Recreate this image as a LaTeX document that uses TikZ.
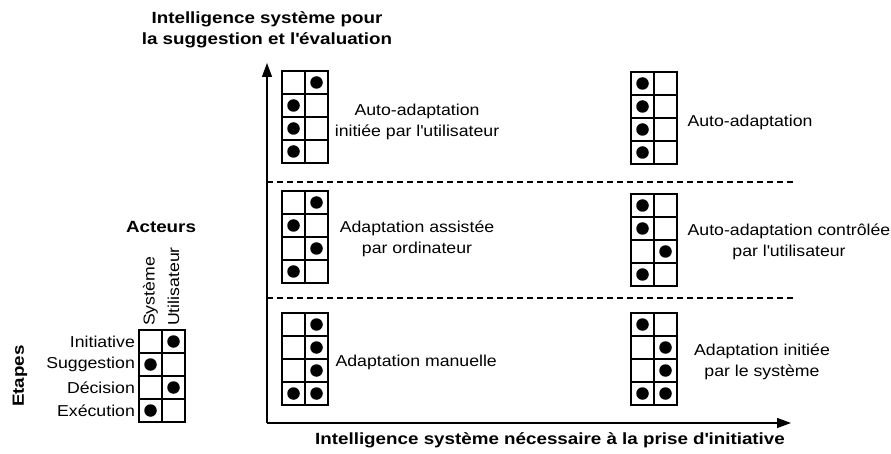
\documentclass[tikz,border=0pt]{standalone}
\usepackage{fontspec}
\setmainfont{Liberation Sans}[FakeStretch=1.12, BoldFeatures={FakeStretch=1.16}]
\usetikzlibrary{arrows.meta}

\tikzset{
  cell/.style={draw, line width=1.2pt, minimum size=23pt, inner sep=0pt},
  dot/.style={circle, fill=black, inner sep=0pt, minimum size=12.5pt},
  axis/.style={line width=1.3pt, -{Triangle[length=14pt,width=10pt]}},
  sep/.style={line width=1.1pt, dash pattern=on 6pt off 4pt},
  lab/.style={align=center, font=\fontsize{15.8}{21.5}\selectfont},
  titre/.style={align=center, font=\fontsize{16.2}{21}\selectfont\bfseries}
}

\begin{document}
\begin{tikzpicture}[x=1pt, y=-1pt]
            \useasboundingbox (0,0) rectangle (891,454);

            % axes
            \coordinate (origin) at (267,423);
            \coordinate (ytip) at (267,63);
            \coordinate (xtip) at (791,423);
            \draw[axis] (origin) -- (ytip);
            \draw[axis] (origin) -- (xtip);
            \coordinate (sep1a) at (267,182);
            \coordinate (sep1b) at (795,182);
            \coordinate (sep2a) at (267,298);
            \coordinate (sep2b) at (795,298);
            \draw[sep] (sep1a) -- (sep1b);
            \draw[sep] (sep2a) -- (sep2b);

            \node[titre] (ytitle) at (267,30) {Intelligence système pour\\la suggestion et l\textquotesingle évaluation};
            \node[titre] (xtitle) at (550,440) {Intelligence système nécessaire à la prise d\textquotesingle initiative};

            % grilles 2x4
            \foreach \g/\x/\y in {leg/139/330, tl/282/71, tr/631/72, ml/282/191, mr/631/194, bl/282/313, br/631/313}
              \foreach \r in {1,...,4}
                \foreach \c in {1,2}
                  \node[cell] (\g-\r-\c) at ({\x+23*\c-11.5},{\y+23*\r-11.5}) {};

            \foreach \p in {leg-1-2, leg-2-1, leg-3-2, leg-4-1,
                            tl-1-2, tl-2-1, tl-3-1, tl-4-1,
                            tr-1-1, tr-2-1, tr-3-1, tr-4-1,
                            ml-1-2, ml-2-1, ml-3-2, ml-4-1,
                            mr-1-1, mr-2-1, mr-3-2, mr-4-1,
                            bl-1-2, bl-2-2, bl-3-2, bl-4-1, bl-4-2,
                            br-1-1, br-2-2, br-3-2, br-4-1, br-4-2}
              \node[dot] at (\p) {};

            % legende
            \node[titre] (acteurs) at (161,227) {Acteurs};
            \node[lab, rotate=90, anchor=west] (sys) at (leg-1-1.north) {Système};
            \node[lab, rotate=90, anchor=west] (util) at (leg-1-2.north) {Utilisateur};
            \node[lab, anchor=east] (ini) at (leg-1-1.west) {Initiative};
            \node[lab, anchor=east] (sug) at (leg-2-1.west) {Suggestion};
            \node[lab, anchor=east] (dec) at (leg-3-1.west) {Décision};
            \node[lab, anchor=east] (exe) at (leg-4-1.west) {Exécution};
            \node[titre, rotate=90] (etapes) at (20,376) {Etapes};

            % libelles
            \node[lab] (autoutil) at (417,122) {Auto-adaptation\\initiée par l\textquotesingle utilisateur};
            \node[lab, anchor=west] (auto) at (684,122) {Auto-adaptation};
            \node[lab] (assist) at (417,239) {Adaptation assistée\\par ordinateur};
            \node[lab] (control) at (789,242) {Auto-adaptation contrôlée\\par l\textquotesingle utilisateur};
            \node[lab, anchor=west] (manuel) at (332,362) {Adaptation manuelle};
            \node[lab] (initsys) at (762,362) {Adaptation initiée\\par le système};

        \end{tikzpicture}
\end{document}
